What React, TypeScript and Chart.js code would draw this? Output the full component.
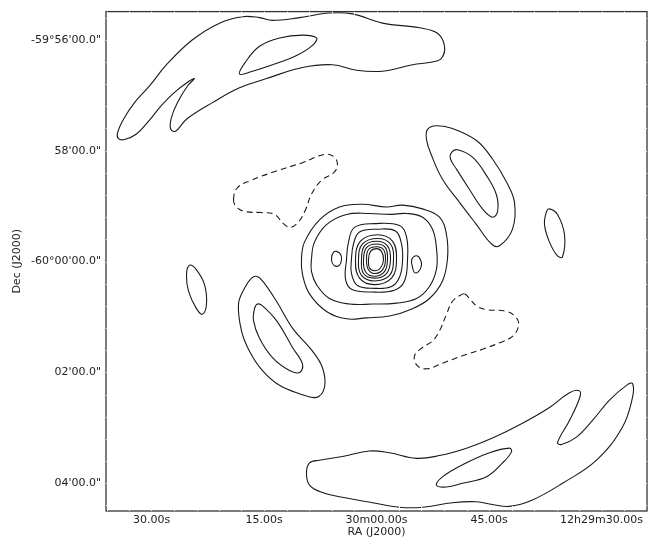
import { useEffect, useRef } from "react";
import { Chart, registerables } from "chart.js";

Chart.register(...registerables);

type P = [number, number];

// Axis coordinates: offsets in arcsec from the field centre (RA 12h30m00s, Dec -60°00'00")
const raTickValues = [225, 112.5, 0, -112.5, -225];
const raTickLabels = ["30.00s", "15.00s", "30m00.00s", "45.00s", "12h29m30.00s"];
const decTickValues = [240, 120, 0, -120, -240];
const decTickLabels = ["-59°56'00.0\"", "58'00.0\"", "-60°00'00.0\"", "02'00.0\"", "04'00.0\""];

// Positive contours
const northArcOuter: P[] = [
  [259, 139], [253, 154], [242, 172], [227, 190], [210, 213], [184, 240], [157, 258], [134, 265],
  [117, 264], [104, 261], [77, 264], [47, 269], [24, 268], [-6, 258], [-43, 253], [-61, 247],
  [-68, 233], [-65, 220], [-56, 216], [-36, 213], [-6, 206], [20, 207], [44, 213], [74, 210],
  [110, 198], [137, 188], [164, 172], [190, 154], [201, 141], [206, 144], [205, 156], [199, 172],
  [189, 190], [182, 198], [189, 194], [202, 183], [215, 169], [227, 153], [240, 138], [252, 132],
  [258, 133],
];
const northArcInner: P[] = [
  [137, 203], [131, 216], [117, 233], [97, 242], [74, 245], [60, 242], [64, 234], [80, 223],
  [104, 213], [124, 206],
];
const southArcOuter: P[] = [
  [70, -229], [67, -218], [57, -215], [34, -211], [7, -205], [-13, -207], [-40, -213], [-63, -210],
  [-90, -202], [-116, -191], [-146, -175], [-173, -158], [-193, -142], [-203, -140], [-203, -148],
  [-193, -172], [-181, -196], [-185, -198], [-200, -190], [-216, -172], [-233, -150], [-250, -134],
  [-256, -132], [-256, -147], [-246, -179], [-220, -215], [-186, -240], [-156, -258], [-133, -265],
  [-116, -263], [-100, -260], [-76, -261], [-46, -266], [-23, -266], [4, -261], [30, -256],
  [54, -250], [67, -242],
];
const southArcInner: P[] = [
  [-60, -242], [-66, -233], [-86, -220], [-113, -207], [-133, -202], [-135, -206], [-126, -218],
  [-110, -233], [-86, -240], [-70, -244],
];
const westLobeOuter: P[] = [
  [-51, 143], [-60, 147], [-76, 144], [-100, 131], [-116, 111], [-130, 86], [-138, 64], [-136, 35],
  [-123, 17], [-115, 19], [-100, 40], [-83, 64], [-66, 89], [-55, 115], [-50, 132],
];
const westLobeInner: P[] = [
  [-75, 118], [-81, 121], [-96, 113], [-110, 93], [-120, 72], [-121, 54], [-116, 48], [-106, 57],
  [-93, 78], [-80, 100], [-74, 111],
];
const eastLobeOuter: P[] = [
  [120, -16], [114, -21], [100, -43], [84, -72], [64, -97], [54, -115], [52, -136], [60, -147],
  [77, -143], [97, -134], [114, -118], [127, -97], [135, -75], [138, -46], [132, -29], [125, -18],
];
const eastLobeInner: P[] = [
  [119, -46], [114, -48], [100, -64], [84, -93], [74, -111], [77, -120], [87, -118], [104, -104],
  [117, -83], [123, -64], [122, -51],
];
const westBlob: P[] = [
  [-173, 57], [-181, 51], [-188, 29], [-186, 5], [-181, 6], [-173, 21], [-168, 40], [-170, 54],
];
const eastBlob: P[] = [
  [187, -4], [180, -9], [172, -25], [170, -46], [174, -57], [180, -51], [188, -32], [190, -14],
];
const coreRing1: P[] = [
  [75, 3], [72, 21], [57, 45], [37, 59], [14, 62], [-10, 59], [-26, 61], [-46, 57], [-63, 48],
  [-70, 29], [-71, 3], [-66, -21], [-53, -40], [-36, -51], [-13, -59], [10, -61], [30, -62],
  [50, -54], [67, -35], [74, -14],
];
const coreRing2: P[] = [
  [65, 3], [62, 21], [50, 40], [30, 51], [7, 52], [-13, 51], [-30, 52], [-46, 48], [-56, 35],
  [-60, 14], [-60, -8], [-53, -27], [-40, -40], [-20, -45], [4, -46], [27, -46], [47, -40],
  [60, -25], [65, -11],
];
const sidelobeEast: P[] = [[40, 11], [36, 8], [35, 2], [37, -4], [41, -5], [44, -2], [45, 4], [43, 10]];
const sidelobeWest: P[] = [[-41, 6], [-44, 2], [-45, -4], [-42, -11], [-38, -12], [-36, -6], [-35, 1], [-37, 5]];
const coreRing3: P[] = [
  [28, 21], [22, 37], [2, 41], [-23, 39], [-30, 27], [-31, 2], [-28, -21], [-18, -31], [5, -33],
  [25, -30], [31, -19], [30, 2],
];
const coreRing4: P[] = [
  [23, 19], [17, 32], [-1, 35], [-19, 33], [-25, 19], [-26, 0], [-23, -17], [-15, -27], [2, -29],
  [19, -26], [25, -13], [25, 3],
];
const coreRing5: P[] = [[21, 2], [16, 22], [-1, 29], [-16, 22], [-20, 2], [-15, -18], [2, -25], [17, -18]];
const coreRing6: P[] = [[18, 2], [14, 19], [-1, 25], [-14, 19], [-17, 2], [-13, -15], [2, -21], [15, -15]];
const coreRing7: P[] = [[15, 2], [12, 17], [0, 22], [-11, 17], [-14, 2], [-10, -13], [2, -18], [13, -13]];
const coreRing8: P[] = [[13, 2], [10, 15], [0, 19], [-9, 15], [-11, 2], [-8, -11], [2, -16], [11, -11]];
const coreRing9: P[] = [[10, 2], [8, 13], [0, 16], [-7, 13], [-9, 2], [-6, -9], [2, -13], [8, -9]];
const coreRing10: P[] = [[8, 2], [6, 11], [0, 14], [-5, 11], [-7, 2], [-4, -7], [2, -10], [7, -7]];

// Negative contours (dashed)
const negativeNorthEast: P[] = [
  [143, 67], [139, 80], [125, 88], [100, 98], [74, 107], [52, 116], [42, 113], [39, 104], [43, 96],
  [55, 88], [65, 73], [71, 56], [78, 43], [86, 37], [93, 41], [102, 51], [115, 53], [131, 54],
  [140, 59],
];
const negativeSouthWest: P[] = [
  [-88, -35], [-93, -40], [-100, -48], [-110, -52], [-130, -54], [-140, -61], [-142, -70],
  [-136, -81], [-123, -88], [-106, -95], [-86, -102], [-66, -110], [-51, -116], [-41, -113],
  [-38, -102], [-46, -93], [-56, -86], [-63, -75], [-70, -57], [-76, -43], [-83, -37],
];

const positiveContours: P[][] = [
  northArcOuter, northArcInner, southArcOuter, southArcInner, westLobeOuter, westLobeInner,
  eastLobeOuter, eastLobeInner, westBlob, eastBlob, coreRing1, coreRing2, sidelobeEast,
  sidelobeWest, coreRing3, coreRing4, coreRing5, coreRing6, coreRing7, coreRing8, coreRing9,
  coreRing10,
];
const negativeContours: P[][] = [negativeNorthEast, negativeSouthWest];

const LINE = "#1a1a1a";
const FONT = { family: "'DejaVu Sans', sans-serif", size: 11 };

function loopDataset(pts: P[], dashed: boolean) {
  const n = pts.length;
  const wrapped = [pts[n - 1], ...pts, pts[0], pts[1]];
  return {
    data: wrapped.map(([x, y]) => ({ x, y })),
    showLine: true,
    borderColor: LINE,
    borderWidth: 1.1,
    borderDash: dashed ? [6, 4] : [],
    pointRadius: 0,
    pointHoverRadius: 0,
    tension: 0.4,
    fill: false,
    segment: {
      borderColor: (ctx: any) =>
        ctx.p0DataIndex === 0 || ctx.p0DataIndex === n + 1 ? "rgba(0,0,0,0)" : LINE,
    },
  };
}

const framePlugin = {
  id: "frame",
  afterDatasetsDraw(chart: any) {
    const { ctx, chartArea: a, scales } = chart;
    ctx.save();
    ctx.strokeStyle = "#333";
    ctx.lineWidth = 1.3;
    ctx.strokeRect(a.left, a.top, a.right - a.left, a.bottom - a.top);
    ctx.strokeStyle = "rgba(255,255,255,0.85)";
    ctx.lineWidth = 1;
    const len = 5;
    for (let v = -270; v <= 270; v += 22.5) {
      const px = Math.round(scales.x.getPixelForValue(v)) + 0.5;
      if (px <= a.left + 1 || px >= a.right - 1) continue;
      ctx.beginPath();
      ctx.moveTo(px, a.bottom);
      ctx.lineTo(px, a.bottom - len);
      ctx.moveTo(px, a.top);
      ctx.lineTo(px, a.top + len);
      ctx.stroke();
    }
    for (let v = -264; v <= 264; v += 24) {
      const py = Math.round(scales.y.getPixelForValue(v)) + 0.5;
      if (py <= a.top + 1 || py >= a.bottom - 1) continue;
      ctx.beginPath();
      ctx.moveTo(a.left, py);
      ctx.lineTo(a.left + len, py);
      ctx.moveTo(a.right, py);
      ctx.lineTo(a.right - len, py);
      ctx.stroke();
    }
    ctx.restore();
  },
};

export default function App() {
  const ref = useRef<HTMLCanvasElement | null>(null);
  useEffect(() => {
    if (!ref.current) return;
    const datasets = [
      ...positiveContours.map((c) => loopDataset(c, false)),
      ...negativeContours.map((c) => loopDataset(c, true)),
    ];
    const chart = new Chart(ref.current, {
      type: "scatter",
      data: { datasets } as any,
      plugins: [framePlugin],
      options: {
        animation: false,
        responsive: false,
        maintainAspectRatio: false,
        events: [],
        layout: { padding: { left: 0, top: 8, right: 6, bottom: 0 } },
        plugins: { legend: { display: false }, tooltip: { enabled: false } },
        scales: {
          x: {
            type: "linear",
            min: -270.5,
            max: 270.5,
            reverse: true,
            grid: { display: false, drawTicks: false },
            border: { display: false },
            afterBuildTicks: (s: any) => {
              s.ticks = raTickValues.map((value) => ({ value }));
            },
            afterFit: (s: any) => {
              s.height = 28;
            },
            ticks: {
              autoSkip: false,
              maxRotation: 0,
              padding: 3,
              color: "#222",
              font: FONT,
              callback: (v: any) => {
                const i = raTickValues.findIndex((t) => Math.abs(t - Number(v)) < 1e-6);
                return i >= 0 ? raTickLabels[i] : "";
              },
            },
            title: {
              display: true,
              text: "RA (J2000)",
              color: "#222",
              font: FONT,
              padding: { top: 0, bottom: 0 },
            },
          },
          y: {
            type: "linear",
            min: -270,
            max: 270.5,
            grid: { display: false, drawTicks: false },
            border: { display: false },
            afterBuildTicks: (s: any) => {
              s.ticks = decTickValues.map((value) => ({ value }));
            },
            afterFit: (s: any) => {
              s.width = 106;
            },
            ticks: {
              autoSkip: false,
              padding: 5,
              color: "#222",
              font: FONT,
              callback: (v: any) => {
                const i = decTickValues.findIndex((t) => Math.abs(t - Number(v)) < 1e-6);
                return i >= 0 ? decTickLabels[i] : "";
              },
            },
            title: {
              display: true,
              text: "Dec (J2000)",
              color: "#222",
              font: FONT,
              padding: { top: 11, bottom: 0 },
            },
          },
        },
      } as any,
    });
    return () => chart.destroy();
  }, []);
  return (
    <div style={{ position: "absolute", left: 0, top: 0, width: 653, height: 539, background: "#fff" }}>
      <canvas ref={ref} width={653} height={539} style={{ width: 653, height: 539, display: "block" }} />
    </div>
  );
}
